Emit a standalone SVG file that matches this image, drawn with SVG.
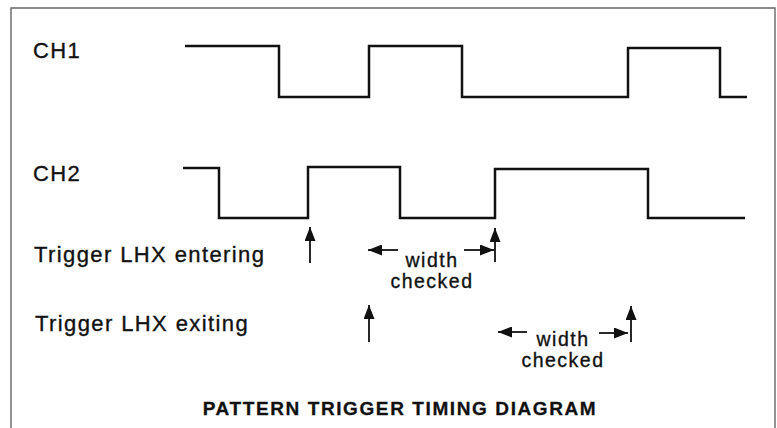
<svg xmlns="http://www.w3.org/2000/svg" width="777" height="428" viewBox="0 0 777 428">
<style>
.lbl{font-family:"Liberation Sans",Arial,sans-serif;font-size:22px;letter-spacing:1.4px;fill:#111;stroke:#111;stroke-width:0.35}
.note{font-family:"Liberation Sans",Arial,sans-serif;font-size:19.5px;letter-spacing:1.5px;fill:#111;stroke:#111;stroke-width:0.35;text-anchor:middle}
.title{font-family:"Liberation Sans",Arial,sans-serif;font-size:19px;font-weight:bold;letter-spacing:1.6px;fill:#111;stroke:#111;stroke-width:0.3;text-anchor:middle}
.wave{fill:none;stroke:#111;stroke-width:2.5;stroke-linejoin:miter}
.arr{fill:none;stroke:#111;stroke-width:1.8}
.frame{fill:none;stroke:#666;stroke-width:1.4}
</style>
<defs>
<marker id="ah" markerUnits="userSpaceOnUse" markerWidth="14" markerHeight="11" refX="14" refY="5.5" orient="auto">
<path d="M0,0 L14,5.5 L0,11 z" fill="#111"/>
</marker>
</defs>
<rect width="777" height="428" fill="#fff"/>
<path class="frame" d="M11,428 V8 H775 V428"/>
<g id="ch1">
<text class="lbl" x="33" y="58">CH1</text>
<path class="wave" d="M185,46 H279 V97 H369 V46 H462 V97 H628 V48 H720 V97 H747"/>
</g>
<g id="ch2">
<text class="lbl" x="33" y="181">CH2</text>
<path class="wave" d="M183,168 H219 V218 H308 V167 H400 V218 H495 V169 H648 V218 H745"/>
</g>
<g id="entering">
<text class="lbl" x="34" y="262">Trigger LHX entering</text>
<text class="note" x="432" y="267">width</text>
<text class="note" x="432" y="288">checked</text>
</g>
<g id="exiting">
<text class="lbl" x="35" y="331">Trigger LHX exiting</text>
<text class="note" x="563" y="346">width</text>
<text class="note" x="563" y="367">checked</text>
</g>
<g id="connectors">
<line class="arr" x1="310" y1="263" x2="310" y2="227" marker-end="url(#ah)"/>
<line class="arr" x1="398" y1="250" x2="368" y2="250" marker-end="url(#ah)"/>
<line class="arr" x1="464" y1="250" x2="494" y2="250" marker-end="url(#ah)"/>
<line class="arr" x1="495" y1="262" x2="495" y2="228" marker-end="url(#ah)"/>
<line class="arr" x1="369" y1="342" x2="369" y2="305" marker-end="url(#ah)"/>
<line class="arr" x1="527" y1="332" x2="498" y2="332" marker-end="url(#ah)"/>
<line class="arr" x1="599" y1="333" x2="628" y2="333" marker-end="url(#ah)"/>
<line class="arr" x1="631" y1="342" x2="631" y2="306" marker-end="url(#ah)"/>
</g>
<g id="title">
<text class="title" x="400" y="415">PATTERN TRIGGER TIMING DIAGRAM</text>
</g>
</svg>
